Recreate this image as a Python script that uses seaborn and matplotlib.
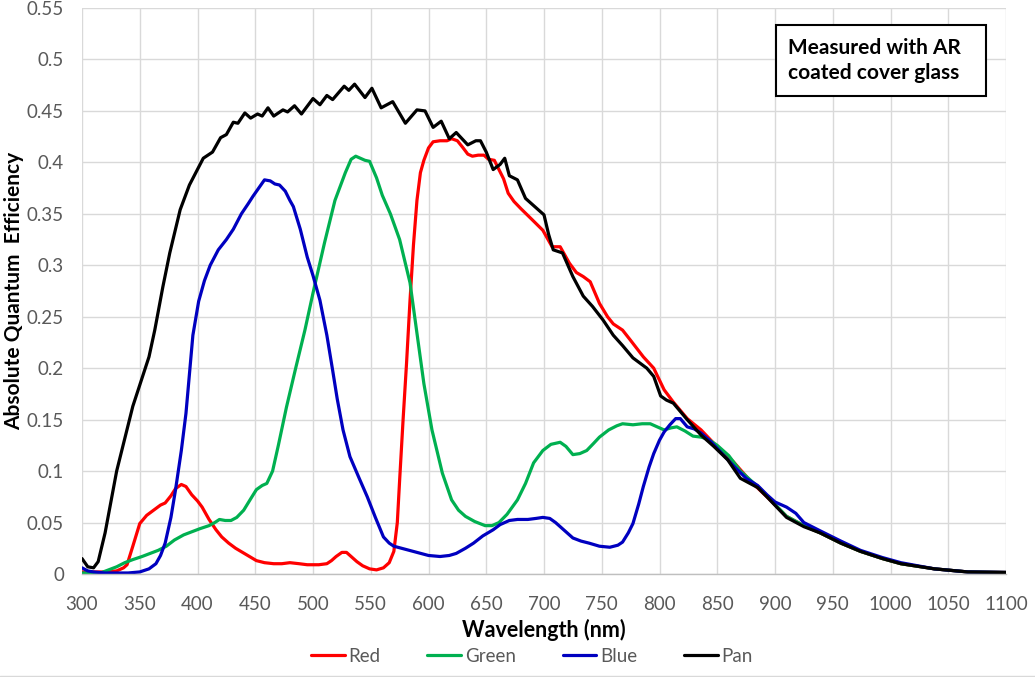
import numpy as np
import pandas as pd
import matplotlib
matplotlib.use("Agg")
import matplotlib.pyplot as plt
import seaborn as sns
from matplotlib.patches import Rectangle
from matplotlib.ticker import FuncFormatter

# ------------------------------------------------------------------
# Data (wavelength in nm, QE as fraction)
# ------------------------------------------------------------------
red_nm = [300, 320, 330, 336, 339, 344, 350, 356, 362, 368, 372, 377, 381, 386, 390,
          395, 400, 404, 410, 416, 421, 427, 433, 439, 445, 451, 458, 466, 473, 480,
          488, 495, 505, 512, 516, 520, 525, 529, 534, 538, 543, 549, 555, 561, 566,
          570, 573, 575, 578, 581, 584, 587, 590, 593, 596, 600, 604, 610, 616, 620,
          625, 630, 634, 638, 643, 648, 652, 657, 661, 665, 669, 674, 680, 690, 699,
          707, 714, 722, 728, 734, 740, 748, 755, 760, 768, 775, 786, 795, 804, 812,
          824, 836, 847, 864, 879, 893, 910, 925, 939, 957, 974, 993, 1009, 1038,
          1067, 1100]
red_qe = [0.002, 0.002, 0.003, 0.006, 0.009, 0.027, 0.049, 0.057, 0.062, 0.067, 0.069,
          0.076, 0.083, 0.087, 0.085, 0.077, 0.071, 0.065, 0.053, 0.043, 0.036, 0.030,
          0.025, 0.021, 0.017, 0.013, 0.011, 0.010, 0.010, 0.011, 0.010, 0.009, 0.009,
          0.010, 0.013, 0.017, 0.021, 0.021, 0.016, 0.012, 0.008, 0.005, 0.004, 0.006,
          0.011, 0.022, 0.050, 0.091, 0.150, 0.205, 0.266, 0.320, 0.363, 0.390, 0.402,
          0.414, 0.420, 0.421, 0.421, 0.423, 0.421, 0.414, 0.408, 0.406, 0.407, 0.407,
          0.403, 0.402, 0.393, 0.384, 0.370, 0.362, 0.355, 0.344, 0.334, 0.318, 0.318,
          0.302, 0.293, 0.289, 0.284, 0.263, 0.250, 0.243, 0.237, 0.227, 0.211, 0.200,
          0.179, 0.167, 0.151, 0.140, 0.127, 0.109, 0.090, 0.075, 0.056, 0.047, 0.040,
          0.030, 0.022, 0.015, 0.010, 0.005, 0.002, 0.0015]

green_nm = [300, 310, 316, 323, 330, 337, 344, 352, 359, 366, 373, 380, 388, 395, 402,
            410, 415, 419, 424, 429, 434, 440, 446, 451, 456, 460, 465, 470, 477, 485,
            493, 500, 510, 519, 528, 533, 537, 541, 545, 549, 555, 560, 567, 575, 584,
            590, 596, 603, 612, 620, 626, 632, 640, 649, 655, 661, 668, 677, 684, 691,
            699, 706, 714, 719, 725, 731, 737, 743, 748, 756, 763, 768, 777, 785, 792,
            798, 804, 810, 815, 822, 829, 836, 842, 850, 860, 870, 885, 893, 910, 925,
            939, 957, 974, 993, 1009, 1038, 1067, 1100]
green_qe = [0.001, 0.001, 0.001, 0.004, 0.007, 0.011, 0.014, 0.017, 0.020, 0.023, 0.027,
            0.033, 0.038, 0.041, 0.044, 0.047, 0.050, 0.053, 0.052, 0.052, 0.055, 0.062,
            0.073, 0.082, 0.086, 0.088, 0.100, 0.125, 0.162, 0.200, 0.237, 0.273, 0.322,
            0.363, 0.390, 0.403, 0.406, 0.404, 0.402, 0.401, 0.385, 0.368, 0.350, 0.325,
            0.283, 0.234, 0.185, 0.140, 0.098, 0.072, 0.062, 0.056, 0.051, 0.047, 0.047,
            0.050, 0.058, 0.072, 0.088, 0.108, 0.120, 0.126, 0.128, 0.124, 0.116, 0.117,
            0.120, 0.127, 0.133, 0.140, 0.144, 0.146, 0.145, 0.146, 0.146, 0.143, 0.140,
            0.142, 0.143, 0.139, 0.134, 0.133, 0.131, 0.125, 0.115, 0.100, 0.085, 0.076,
            0.056, 0.047, 0.040, 0.030, 0.022, 0.015, 0.010, 0.005, 0.002, 0.0015]

blue_nm = [300, 305, 310, 320, 340, 350, 358, 364, 368, 372, 377, 381, 386, 390, 396,
           401, 406, 411, 418, 425, 431, 438, 444, 448, 453, 458, 463, 467, 471, 476,
           480, 483, 489, 495, 500, 506, 512, 517, 521, 526, 532, 540, 547, 554, 561,
           566, 570, 580, 590, 600, 610, 618, 624, 632, 639, 647, 656, 662, 670, 677,
           686, 693, 699, 705, 710, 717, 725, 732, 739, 748, 757, 764, 768, 773, 777,
           782, 786, 791, 795, 800, 804, 809, 814, 818, 821, 824, 830, 836, 845, 855,
           865, 875, 885, 893, 900, 910, 918, 925, 939, 957, 974, 993, 1009, 1038, 1067,
           1100]
blue_qe = [0.006, 0.003, 0.002, 0.001, 0.001, 0.002, 0.005, 0.010, 0.018, 0.030, 0.055,
           0.082, 0.120, 0.156, 0.232, 0.265, 0.285, 0.300, 0.315, 0.325, 0.335, 0.350,
           0.360, 0.367, 0.375, 0.383, 0.382, 0.379, 0.378, 0.372, 0.363, 0.357, 0.335,
           0.308, 0.290, 0.266, 0.232, 0.198, 0.170, 0.140, 0.114, 0.093, 0.075, 0.055,
           0.036, 0.030, 0.027, 0.024, 0.021, 0.018, 0.017, 0.018, 0.020, 0.025, 0.030,
           0.037, 0.043, 0.048, 0.052, 0.053, 0.053, 0.054, 0.055, 0.054, 0.050, 0.043,
           0.035, 0.032, 0.030, 0.027, 0.026, 0.028, 0.031, 0.040, 0.049, 0.068, 0.085,
           0.104, 0.117, 0.130, 0.138, 0.145, 0.151, 0.151, 0.147, 0.143, 0.141, 0.137,
           0.128, 0.116, 0.104, 0.093, 0.086, 0.077, 0.070, 0.065, 0.059, 0.050, 0.042,
           0.032, 0.023, 0.016, 0.011, 0.005, 0.002, 0.0015]

pan_nm = [300, 305, 310, 314, 320, 330, 344, 358, 363, 370, 376, 385, 393, 405, 413,
          420, 425, 431, 435, 441, 446, 452, 456, 461, 466, 474, 478, 484, 490, 500,
          506, 512, 517, 527, 531, 536, 545, 551, 559, 569, 580, 590, 597, 604, 611,
          618, 624, 634, 641, 645, 650, 656, 662, 666, 670, 677, 684, 693, 700, 704,
          708, 716, 725, 734, 742, 751, 760, 768, 777, 789, 795, 801, 806, 812, 824,
          836, 847, 859, 870, 885, 893, 910, 925, 939, 957, 974, 993, 1009, 1038, 1067,
          1100]
pan_qe = [0.015, 0.007, 0.006, 0.012, 0.040, 0.100, 0.163, 0.211, 0.237, 0.279, 0.312,
          0.354, 0.378, 0.404, 0.410, 0.424, 0.427, 0.439, 0.438, 0.448, 0.443, 0.447,
          0.445, 0.453, 0.445, 0.451, 0.449, 0.455, 0.447, 0.462, 0.456, 0.465, 0.461,
          0.474, 0.470, 0.476, 0.463, 0.472, 0.453, 0.459, 0.438, 0.451, 0.450, 0.434,
          0.440, 0.423, 0.429, 0.417, 0.421, 0.421, 0.410, 0.393, 0.398, 0.404, 0.387,
          0.383, 0.365, 0.356, 0.349, 0.330, 0.315, 0.312, 0.289, 0.270, 0.260, 0.247,
          0.232, 0.222, 0.210, 0.200, 0.192, 0.173, 0.169, 0.166, 0.150, 0.135, 0.124,
          0.111, 0.093, 0.084, 0.075, 0.055, 0.046, 0.040, 0.030, 0.022, 0.015, 0.010,
          0.005, 0.002, 0.0015]

series_names = ["Red", "Green", "Blue", "Pan"]
series_colors = ["#ff0000", "#00b050", "#0000c0", "#000000"]
x_ticks = list(range(300, 1101, 50))
y_ticks = [round(0.05 * i, 2) for i in range(12)]

# long format table for seaborn
df = pd.concat([
    pd.DataFrame({"nm": red_nm, "qe": red_qe, "band": "Red"}),
    pd.DataFrame({"nm": green_nm, "qe": green_qe, "band": "Green"}),
    pd.DataFrame({"nm": blue_nm, "qe": blue_qe, "band": "Blue"}),
    pd.DataFrame({"nm": pan_nm, "qe": pan_qe, "band": "Pan"}),
], ignore_index=True)

# ------------------------------------------------------------------
# Plot
# ------------------------------------------------------------------
sns.set_theme(style="white")
plt.rcParams["font.family"] = ["Lato", "DejaVu Sans"]

fig = plt.figure(figsize=(10.35, 6.77), dpi=100)
ax = fig.add_axes([82 / 1035, 1 - 574 / 677, 924 / 1035, 566 / 677])

sns.lineplot(data=df, x="nm", y="qe", hue="band", hue_order=series_names,
             palette=dict(zip(series_names, series_colors)),
             estimator=None, sort=False, linewidth=2.3, ax=ax,
             solid_joinstyle="round", solid_capstyle="round")

ax.set_xlim(300, 1100)
ax.set_ylim(0, 0.55)
ax.set_xticks(x_ticks)
ax.set_yticks(y_ticks)
ax.yaxis.set_major_formatter(FuncFormatter(lambda v, p: f"{v:g}"))
ax.tick_params(axis="both", labelsize=13.5, labelcolor="#595959", length=0)
ax.tick_params(axis="x", pad=16)
ax.tick_params(axis="y", pad=13)
ax.grid(True, color="#d9d9d9", linewidth=1)
for side in ["top", "right", "left"]:
    ax.spines[side].set_visible(False)
ax.spines["bottom"].set_color("#bfbfbf")
ax.spines["bottom"].set_linewidth(1)

ax.set_xlabel("Wavelength (nm)", fontsize=15.5, fontweight="bold", color="black", labelpad=4)
ax.set_ylabel("Absolute Quantum  Efficiency", fontsize=15, fontweight="bold",
              color="black", labelpad=2)

# annotation box
ax.add_patch(Rectangle((0.751, 0.845), 0.227, 0.125, transform=ax.transAxes,
                       facecolor="white", edgecolor="black", linewidth=1.5, zorder=5))
ax.text(0.764, 0.907, "Measured with AR\ncoated cover glass", transform=ax.transAxes,
        fontsize=15, fontweight="bold", color="black", ha="left", va="center",
        linespacing=1.3, zorder=6)

# legend at the bottom
handles, labels = ax.get_legend_handles_labels()
ax.get_legend().remove()
leg = fig.legend(handles, labels, loc="center", bbox_to_anchor=(0.514, 0.031), ncol=4,
                 frameon=False, fontsize=13.5, handlelength=1.8, handletextpad=0.2,
                 columnspacing=2.5)
for t in leg.get_texts():
    t.set_color("#595959")
for h in leg.get_lines():
    h.set_linewidth(2.3)

fig.add_artist(plt.Line2D([0, 1], [0.002, 0.002], color="#d9d9d9", linewidth=1))

fig.savefig("out.png", dpi=100)
